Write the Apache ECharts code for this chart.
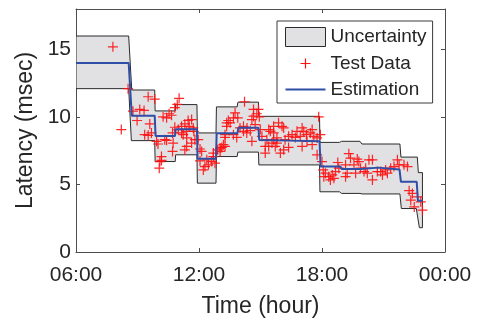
<!DOCTYPE html>
<html>
<head>
<meta charset="utf-8">
<script src="https://cdn.jsdelivr.net/npm/echarts@6/dist/echarts.min.js"></script>
<style>
  html, body { margin: 0; padding: 0; background: #ffffff; }
  #chart { width: 493px; height: 326px; }
</style>
</head>
<body>
<div id="chart"></div>
<script>
// Hour-of-day ticks (24 is shown as 00:00)
const xTicks = [6, 12, 18, 24];
const yTicks = [0, 5, 10, 15];

// Uncertainty band: upper and lower edges, [hour, latency ms]
const bandUpper = [
  [6, 16], [8.57, 16], [8.72, 12.0], [9.84, 12.0], [9.86, 10.45], [10.84, 10.45],
  [10.86, 10.92], [11.9, 10.92], [11.92, 8.82], [12.83, 8.82], [12.85, 10.75],
  [13.86, 10.75], [13.9, 11.1], [14.9, 11.1], [14.92, 10.05], [17.88, 10.05],
  [17.9, 8.12], [18.85, 8.12], [18.95, 8.2], [19.85, 8.2], [19.95, 8.0], [21.8, 8.0],
  [21.85, 7.03], [22.65, 7.03], [22.7, 5.88], [22.9, 5.88]
];
const bandLower = [
  [6, 12.1], [8.57, 12.1], [8.7, 8.25], [9.84, 8.25], [9.86, 6.7], [10.84, 6.7],
  [10.86, 7.2], [11.9, 7.2], [11.92, 5.1], [12.83, 5.1], [12.85, 7.07], [13.86, 7.07],
  [13.9, 7.4], [14.9, 7.4], [14.92, 6.45], [17.88, 6.45], [17.9, 4.46], [18.85, 4.46],
  [18.95, 4.34], [19.85, 4.34], [19.95, 4.3], [21.8, 4.3], [21.87, 3.22], [22.6, 3.22],
  [22.75, 1.8], [22.9, 1.8]
];

// Estimated latency (piecewise constant)
const estimation = [
  [6, 14], [8.57, 14], [8.72, 10.1], [9.84, 10.1], [9.88, 8.6], [10.83, 8.6],
  [10.86, 9.1], [11.9, 9.1], [11.93, 6.9], [12.83, 6.9], [12.86, 8.8], [13.88, 8.8],
  [13.92, 9.2], [14.9, 9.2], [14.94, 8.3], [16.4, 8.25], [17.88, 8.2], [17.93, 6.33],
  [18.9, 6.33], [18.95, 6.15], [19.85, 6.15], [19.9, 6.25], [20.75, 6.25], [20.8, 6.12],
  [21.78, 6.12], [21.85, 5.2], [22.62, 5.2], [22.68, 3.8], [22.9, 3.8]
];

// Measured latency samples
const testData = [
  [7.8, 15.2], [8.21, 9.07], [8.54, 12.1],
  [9.52, 11.5], [9.84, 11.33], [9.11, 10.56], [9.32, 10.49], [8.78, 10.43], [10.25, 10.01],
  [8.98, 9.74], [9.6, 9.49], [9.35, 8.69], [9.52, 8.64], [9.68, 8.82], [9.93, 8.2],
  [10.0, 8.0], [10.17, 7.07], [10.09, 6.7],
  [11.03, 11.38], [10.94, 10.93], [10.82, 10.69], [10.54, 10.24], [10.66, 10.13],
  [10.42, 9.94], [11.47, 9.74], [11.64, 9.81], [11.31, 9.49], [10.82, 9.24], [10.99, 9.07],
  [10.71, 8.82], [11.23, 8.69], [11.72, 9.19], [11.75, 8.94], [10.33, 8.32], [10.74, 8.07],
  [11.4, 7.82], [11.64, 8.07], [11.31, 7.57], [10.71, 7.45], [11.96, 8.32], [12.13, 7.45],
  [12.38, 6.83], [12.05, 6.75], [12.62, 6.7], [12.7, 7.07],
  [12.21, 6.08], [12.29, 6.33], [12.46, 6.46], [12.78, 6.58], [12.7, 7.33], [12.05, 7.63],
  [10.06, 6.21], [10.17, 6.78], [10.42, 8.27], [11.8, 8.32], [11.4, 8.45], [11.15, 8.82],
  [11.52, 9.31], [11.4, 8.94], [11.15, 9.31],
  [13.03, 7.7], [13.19, 7.95], [13.27, 8.69], [13.68, 8.69], [14.33, 8.82], [14.58, 8.2],
  [15.23, 7.33], [15.4, 9.07], [15.64, 8.32], [15.8, 8.07], [13.35, 9.57], [14.0, 9.19],
  [14.17, 9.31], [14.74, 9.44], [14.99, 9.07],
  [14.22, 11.13], [14.9, 10.56], [14.82, 10.24], [13.76, 10.31], [13.68, 9.94], [13.89, 9.94],
  [13.52, 9.57], [13.35, 9.31], [13.43, 9.74], [14.34, 9.19], [14.58, 9.81], [14.66, 10.06],
  [14.5, 8.99], [13.27, 8.49], [13.84, 8.49], [14.17, 8.94], [15.07, 8.57], [15.31, 8.32],
  [15.56, 8.07], [15.23, 7.82], [15.4, 7.82], [13.11, 7.75], [13.03, 7.45], [12.91, 7.57],
  [13.27, 7.82], [14.66, 10.56], [14.94, 10.01], [15.48, 8.94], [15.64, 9.31], [15.88, 9.57],
  [17.84, 10.01], [16.05, 9.31], [16.13, 9.19], [17.03, 9.19], [17.11, 8.94], [17.52, 9.07],
  [16.78, 8.94], [16.54, 8.69], [16.37, 8.57], [15.64, 8.82], [15.8, 8.45], [16.2, 8.32],
  [16.7, 8.49], [16.94, 8.57], [17.24, 8.69], [17.43, 8.82], [17.6, 8.57], [17.76, 8.45],
  [17.92, 8.69], [17.27, 8.2], [17.03, 7.82], [16.13, 7.57], [15.97, 7.33], [16.37, 7.75],
  [17.52, 7.95], [17.76, 7.2], [18.0, 6.7], [15.72, 7.82],
  [19.31, 7.28], [19.39, 6.95], [19.56, 6.46], [19.8, 6.7], [20.29, 6.83], [20.46, 6.83],
  [19.88, 6.21], [19.15, 6.46], [18.82, 6.21], [18.66, 5.96], [18.5, 5.71], [18.33, 5.58],
  [18.17, 5.84], [18.06, 6.08], [18.09, 5.58], [18.41, 5.34], [18.58, 5.46], [19.15, 5.58],
  [19.23, 5.84], [19.64, 5.84], [20.05, 5.96], [20.21, 5.84], [20.46, 5.34], [20.7, 5.96],
  [20.13, 6.21], [18.77, 6.63], [19.72, 6.88],
  [21.68, 6.83], [21.76, 6.46], [22.0, 6.46], [22.17, 6.33], [21.51, 6.33], [21.35, 6.21],
  [21.1, 6.08], [20.86, 5.96], [21.19, 5.84], [20.95, 5.71], [22.25, 4.54], [22.41, 4.34],
  [22.66, 4.09], [22.33, 3.84], [22.5, 3.34], [22.82, 3.72], [22.9, 3.1]
];

const FONT = '"Liberation Sans", Arial, Helvetica, sans-serif';
const TEXT = '#262626';
const AXIS = '#4d4d4d';
const BAND_FILL = '#e1e1e3';
const BAND_EDGE = '#2b2b2b';
const RED = '#ff1010';
const BLUE = '#2f4fa6';

const PLUS = 'path://M4.4,0h1.2v10h-1.2z M0,4.4h10v1.2h-10z';
// Legend icons padded to a 40x19 box with invisible corner specks
const PLUS_ICON = 'path://M0,0h0.01v0.01h-0.01z M39.99,18.99h0.01v0.01h-0.01z M15,8.9h10v1.2h-10z M19.4,4.5h1.2v10h-1.2z';
const LINE_ICON = 'path://M0,0h0.01v0.01h-0.01z M39.99,18.99h0.01v0.01h-0.01z M0,8.5h40v2h-40z';

function hourLabel(v) {
  const h = Math.round(v) % 24;
  return (h < 10 ? '0' : '') + h + ':00';
}

const chart = echarts.init(document.getElementById('chart'), null, { renderer: 'canvas' });

const tickStyle = { show: true, inside: true, length: 4, lineStyle: { color: AXIS, width: 1 } };
const lineStyleAxis = { show: true, onZero: false, lineStyle: { color: AXIS, width: 1 } };

chart.setOption({
  animation: false,
  backgroundColor: '#ffffff',
  grid: { left: 76, top: 9, width: 369, height: 243, containLabel: false },
  xAxis: [
    {
      type: 'value', min: xTicks[0], max: xTicks[xTicks.length - 1], interval: 6,
      position: 'bottom',
      axisLine: lineStyleAxis, axisTick: tickStyle, splitLine: { show: false },
      axisLabel: { formatter: hourLabel, fontSize: 21, color: TEXT, fontFamily: FONT, margin: 13 },
      name: 'Time (hour)', nameLocation: 'middle', nameGap: 43,
      nameTextStyle: { fontSize: 23, color: TEXT, fontFamily: FONT }
    },
    {
      type: 'value', min: xTicks[0], max: xTicks[xTicks.length - 1], interval: 6,
      position: 'top',
      axisLine: lineStyleAxis, axisTick: tickStyle, splitLine: { show: false },
      axisLabel: { show: false }
    }
  ],
  yAxis: [
    {
      type: 'value', min: yTicks[0], max: 18, interval: 5,
      position: 'left',
      axisLine: lineStyleAxis, axisTick: tickStyle, splitLine: { show: false },
      axisLabel: { fontSize: 21, color: TEXT, fontFamily: FONT, margin: 5, showMaxLabel: false },
      name: 'Latency (msec)', nameLocation: 'middle', nameGap: 36,
      nameTextStyle: { fontSize: 23, color: TEXT, fontFamily: FONT }
    },
    {
      type: 'value', min: yTicks[0], max: 18, interval: 5,
      position: 'right',
      axisLine: lineStyleAxis, axisTick: tickStyle, splitLine: { show: false },
      axisLabel: { show: false }
    }
  ],
  legend: {
    orient: 'vertical', left: 277, top: 21,
    padding: [6, 6, 4, 8],
    itemWidth: 40, itemHeight: 19, itemGap: 7,
    backgroundColor: '#ffffff', borderColor: '#3a3a3a', borderWidth: 1, borderRadius: 0,
    selectedMode: false,
    textStyle: { fontSize: 19, color: TEXT, fontFamily: FONT, lineHeight: 19 },
    data: [
      { name: 'Uncertainty', icon: 'rect',
        itemStyle: { color: BAND_FILL, borderColor: BAND_EDGE, borderWidth: 1 } },
      { name: 'Test Data', icon: PLUS_ICON,
        itemStyle: { color: RED, borderColor: RED, borderWidth: 0, opacity: 1 },
        lineStyle: { color: RED, width: 0 } },
      { name: 'Estimation', icon: LINE_ICON,
        itemStyle: { color: BLUE, borderColor: BLUE, borderWidth: 0 },
        lineStyle: { color: BLUE, width: 0 } }
    ]
  },
  series: [
    {
      name: 'Uncertainty',
      type: 'custom',
      clip: true,
      z: 1,
      itemStyle: { color: BAND_FILL },
      data: [[bandUpper[0][0], bandUpper[0][1]]],
      renderItem: function (params, api) {
        const pts = bandUpper.map(function (p) { return api.coord(p); })
          .concat(bandLower.slice().reverse().map(function (p) { return api.coord(p); }));
        return {
          type: 'polygon',
          shape: { points: pts },
          style: { fill: BAND_FILL, stroke: BAND_EDGE, lineWidth: 1 }
        };
      }
    },
    {
      name: 'Test Data',
      type: 'scatter',
      z: 2,
      symbol: PLUS,
      symbolSize: 10,
      itemStyle: { color: RED, borderColor: RED, borderWidth: 0, opacity: 0.9 },
      data: testData
    },
    {
      name: 'Estimation',
      type: 'line',
      z: 3,
      showSymbol: false,
      symbol: 'none',
      lineStyle: { color: BLUE, width: 2 },
      itemStyle: { color: BLUE },
      data: estimation
    }
  ]
});
</script>
</body>
</html>
